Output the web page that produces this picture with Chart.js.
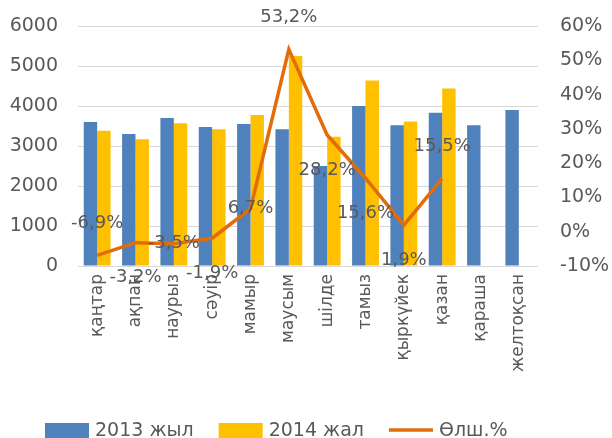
<!DOCTYPE html>
<html>
<head>
<meta charset="utf-8">
<script src="https://cdn.jsdelivr.net/npm/chart.js@4.4.0/dist/chart.umd.min.js"></script>
<style>
  html, body { margin: 0; padding: 0; overflow: hidden; background: #fff; }
  #wrap { width: 612px; height: 438px; position: relative; }
</style>
</head>
<body>
<div id="wrap"><canvas id="chart"></canvas></div>
<script>
const months = ['қаңтар', 'ақпан', 'наурыз', 'сәуір', 'мамыр', 'маусым',
                'шілде', 'тамыз', 'қыркүйек', 'қазан', 'қараша', 'желтоқсан'];
const y2013  = [3600, 3300, 3700, 3475, 3550, 3420, 2500, 4000, 3520, 3830, 3520, 3900];
const y2014  = [3380, 3170, 3570, 3420, 3775, 5250, 3230, 4640, 3610, 4440, null, null];
const growth = [-6.9, -3.2, -3.5, -1.9, 6.7, 53.2, 28.2, 15.6, 1.9, 15.5, null, null];

// where each data label sits relative to its point
const labelPos = ['above', 'below', 'center', 'below', 'center', 'above',
                  'below', 'below', 'below', 'above'];

const GREY = '#595959';
const FONT = 'DejaVu Sans';

Chart.defaults.font.family = FONT;
Chart.defaults.color = GREY;

// keep the plot box exactly where the original has it
const noPad = s => { s.paddingTop = 0; s.paddingBottom = 0; };

// data labels on the growth line
const growthLabels = {
  id: 'growthLabels',
  afterDatasetsDraw(chart) {
    const meta = chart.getDatasetMeta(2);
    const ctx = chart.ctx;
    ctx.save();
    ctx.font = `18px "${FONT}"`;
    ctx.fillStyle = GREY;
    ctx.textAlign = 'center';
    ctx.textBaseline = 'middle';
    meta.data.forEach((pt, i) => {
      const v = growth[i];
      if (v == null) return;
      const dy = { above: -32, below: 35, center: 0 }[labelPos[i]];
      ctx.fillText(v.toFixed(1).replace('.', ',') + '%', pt.x, pt.y + dy);
    });
    ctx.restore();
  }
};

// legend drawn by hand: the original sits left of centre, half cut off at the bottom
const bottomLegend = {
  id: 'bottomLegend',
  afterDraw(chart) {
    const ctx = chart.ctx;
    const cy = 430;
    let x = 45;
    ctx.save();
    ctx.font = `19px "${FONT}"`;
    ctx.textBaseline = 'middle';
    ctx.textAlign = 'left';
    chart.data.datasets.forEach(ds => {
      if (ds.type === 'line') {
        ctx.strokeStyle = ds.borderColor;
        ctx.lineWidth = 3.5;
        ctx.beginPath();
        ctx.moveTo(x, cy);
        ctx.lineTo(x + 44, cy);
        ctx.stroke();
      } else {
        ctx.fillStyle = ds.backgroundColor;
        ctx.fillRect(x, cy - 7, 44, 15);
      }
      x += 50;
      ctx.fillStyle = GREY;
      ctx.fillText(ds.label, x, cy + 1);
      x += ctx.measureText(ds.label).width + 25;
    });
    ctx.restore();
  }
};

new Chart(document.getElementById('chart').getContext('2d'), {
  type: 'bar',
  data: {
    labels: months,
    datasets: [
      {
        label: '2013 жыл',
        data: y2013,
        backgroundColor: '#4F81BD',
        yAxisID: 'y',
        order: 1
      },
      {
        label: '2014 жал',
        data: y2014,
        backgroundColor: '#FFC000',
        yAxisID: 'y',
        order: 1
      },
      {
        type: 'line',
        label: 'Өлш.%',
        data: growth,
        borderColor: '#E36C0A',
        backgroundColor: '#E36C0A',
        borderWidth: 3.5,
        pointRadius: 0,
        tension: 0,
        yAxisID: 'y1',
        order: 0
      }
    ]
  },
  options: {
    responsive: true,
    maintainAspectRatio: false,
    animation: false,
    layout: { padding: { top: 26, left: 0, right: 0, bottom: 0 } },
    datasets: {
      bar: { categoryPercentage: 0.7, barPercentage: 1.0 }
    },
    plugins: {
      tooltip: { enabled: false },
      legend: { display: false }
    },
    scales: {
      x: {
        grid: { display: false, drawTicks: false },
        border: { display: false },
        ticks: { minRotation: 90, maxRotation: 90, padding: 8, font: { size: 17 } },
        afterFit(s) { s.height = 172; }
      },
      y: {
        position: 'left',
        min: 0,
        max: 6000,
        ticks: { stepSize: 1000, padding: 20, font: { size: 19 }, callback: v => String(v) },
        grid: { color: '#D9D9D9', drawTicks: false },
        border: { display: false },
        afterFit(s) { s.width = 78; noPad(s); }
      },
      y1: {
        position: 'right',
        min: -10,
        max: 60,
        ticks: { stepSize: 10, padding: 22, font: { size: 19 }, callback: v => v + '%' },
        grid: { display: false, drawTicks: false },
        border: { display: false },
        afterFit(s) { s.width = 74; noPad(s); }
      }
    }
  },
  plugins: [growthLabels, bottomLegend]
});
</script>
</body>
</html>
